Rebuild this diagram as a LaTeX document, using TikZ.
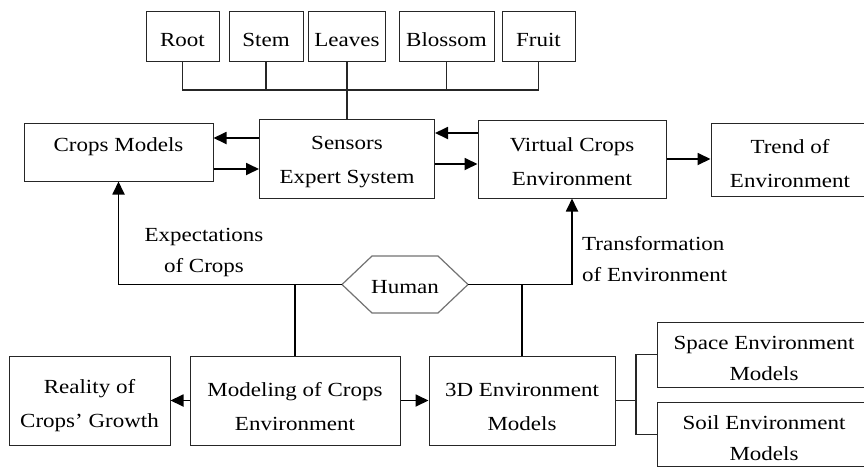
\documentclass[tikz,border=0pt]{standalone}
\usepackage{fontspec}
\setmainfont{Liberation Serif}[FakeStretch=1.15]
\usetikzlibrary{arrows.meta}
\begin{document}
\begin{tikzpicture}[x=1pt,y=-1pt,
 box/.style={draw=black!85, line width=1pt, inner sep=0pt},
 txt/.style={font=\fontsize{20}{34}\selectfont, align=center, inner sep=0pt},
 arr/.style={line width=1.8pt, -{Triangle[length=13pt,width=12pt]}},
 ln/.style={line width=1.1pt, draw=black!85},
 lbl/.style={font=\fontsize{20}{31}\selectfont, inner sep=0pt}]
\useasboundingbox (0,0) rectangle (864,466);
\clip (0,0) rectangle (864,466);
\fill[white] (0,0) rectangle (864,466);
% top parts
\node[box, minimum width=73pt, minimum height=50pt] (root) at (182.5,36) {};
\node[box, minimum width=74pt, minimum height=50pt] (stem) at (266,36) {};
\node[box, minimum width=77pt, minimum height=50pt] (leaves) at (347,36) {};
\node[box, minimum width=95pt, minimum height=50pt] (blossom) at (446.5,36) {};
\node[box, minimum width=73pt, minimum height=50pt] (fruit) at (538.5,36) {};
\node[txt] (rootT) at (182.5,40) {Root};
\node[txt] (stemT) at (266,40) {Stem};
\node[txt] (leavesT) at (347,40) {Leaves};
\node[txt] (blossomT) at (446.5,40) {Blossom};
\node[txt] (fruitT) at (538.5,40) {Fruit};
% middle row
\node[box, minimum width=189pt, minimum height=58pt] (crops) at (118.5,152) {};
\node[box, minimum width=175pt, minimum height=79pt] (sens) at (347,158.5) {};
\node[box, minimum width=188pt, minimum height=78pt] (virt) at (572,159) {};
\node[box, minimum width=158pt, minimum height=73pt] (trend) at (790,159.5) {};
\node[txt] (cropsT) at (118.5,147) {Crops Models};
\node[txt] (sensT) at (347,162) {Sensors\\Expert System};
\node[txt] (virtT) at (572,162) {Virtual Crops\\Environment};
\node[txt] (trendT) at (790,164) {Trend of\\Environment};
% human
\node[font=\fontsize{20}{24}\selectfont, inner sep=0pt] (hum) at (405,287) {Human};
\coordinate (hl) at (342,284.5);
\coordinate (hr) at (468,284.5);
\draw[draw=black!55, line width=1.2pt] (hl) -- (372,256) -- (438,256) -- (hr) -- (438,313) -- (372,313) -- cycle;
% labels
\node[lbl, align=center] (expl) at (204,253) {Expectations\\of Crops};
\node[lbl, align=left, anchor=west] (transl) at (582,259) {Transformation\\of Environment};
% bottom row
\node[box, minimum width=161pt, minimum height=89pt] (real) at (89.5,400.5) {};
\node[box, minimum width=210pt, minimum height=89pt] (model) at (295,400.5) {};
\node[box, minimum width=186pt, minimum height=89pt] (three) at (522,400.5) {};
\node[box, minimum width=214pt, minimum height=65pt] (space) at (764,354.5) {};
\node[box, minimum width=214pt, minimum height=64pt] (soil) at (764,434.5) {};
\node[txt] (realT) at (89.5,406) {Reality of\\Crops' Growth};
\node[txt] (modelT) at (295,407) {Modeling of Crops\\Environment};
\node[txt] (threeT) at (522,406.5) {3D Environment\\Models};
\node[txt, font=\fontsize{20}{31}\selectfont] (spaceT) at (764,358) {Space Environment\\Models};
\node[txt, font=\fontsize{20}{31}\selectfont] (soilT) at (764,438) {Soil Environment\\Models};
% tree at top
\coordinate (bus) at (347,90);
\draw[ln] (root.south) -- (root.south |- bus) -- (fruit.south |- bus) -- (fruit.south);
\draw[ln] (stem.south) -- (stem.south |- bus);
\draw[ln] (leaves.south) -- (leaves.south |- bus);
\draw[ln] (blossom.south) -- (blossom.south |- bus);
\draw[ln] (bus) -- (sens.north);
% arrows middle row
\coordinate (s1) at ([yshift=20.5pt]sens.west);
\coordinate (s2) at ([yshift=-10.5pt]sens.west);
\draw[arr] (s1) -- (s1 -| crops.east);
\draw[arr] (s2 -| crops.east) -- (s2);
\coordinate (v1) at ([yshift=26pt]virt.west);
\coordinate (v2) at ([yshift=-5pt]virt.west);
\draw[arr] (v1) -- (v1 -| sens.east);
\draw[arr] (v2 -| sens.east) -- (v2);
\draw[arr] (virt.east) -- (virt.east -| trend.west);
% human connections
\draw[arr] (hl) -- (crops.south |- hl) -- (crops.south);
\draw[arr] (hr) -- (virt.south |- hr) -- (virt.south);
\draw[line width=1.8pt] (model.north) -- (model.north |- hl);
\draw[line width=1.8pt] (three.north) -- (three.north |- hr);
% bottom arrows
\draw[arr] (model.west) -- (real.east);
\draw[arr] (model.east) -- (three.west);
\coordinate (br) at (636,400.5);
\draw[ln] (three.east) -- (br);
\draw[ln] (space.west) -- (space.west -| br) -- (soil.west -| br) -- (soil.west);
\end{tikzpicture}
\end{document}
